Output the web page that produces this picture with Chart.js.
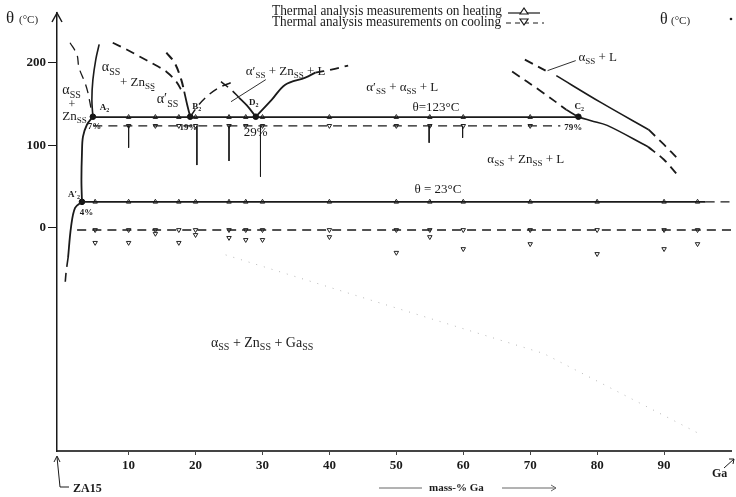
<!DOCTYPE html>
<html>
<head>
<meta charset="utf-8">
<script src="https://cdn.jsdelivr.net/npm/chart.js@4.4.0/dist/chart.umd.min.js"></script>
<style>
  html, body { margin: 0; padding: 0; background: #fff; }
  #wrap { width: 736px; height: 497px; }
</style>
</head>
<body>
<div id="wrap"><canvas id="myChart"></canvas></div>
<script>
// Composiciones medidas (% masa Ga)
var gaUpper = [10, 14, 17.5, 20, 25, 27.5, 30, 40, 50, 55, 60, 70];
var gaLower = [5, 10, 14, 17.5, 20, 25, 27.5, 30, 40, 50, 55, 60, 70, 80, 90, 95];

// Niveles de las lineas horizontales (tal como estan dibujadas)
var tHeatUpper = [134, 134, 134, 134, 134, 134, 134, 134, 134, 134, 134, 134];
var tCoolUpper = [123.5, 123.5, 123.5, 123.5, 123.5, 123.5, 123.5, 123.5, 123.5, 123.5, 123.5, 123.5];
var tHeatLower = [31.5, 31.5, 31.5, 31.5, 31.5, 31.5, 31.5, 31.5, 31.5, 31.5, 31.5, 31.5, 31.5, 31.5, 31.5, 31.5];
var tCoolLower = [-2.5, -2.5, -2.5, -2.5, -2.5, -2.5, -2.5, -2.5, -2.5, -2.5, -2.5, -2.5, -2.5, -2.5, -2.5, -2.5];
var tCoolLowerScatter = [-18, -18, -7, -18, -8.5, -12, -14.5, -14.5, -11, -30, -11, -25.5, -19.5, -31.5, -25.5, -19.5];

// Caidas verticales desde la linea de enfriamiento superior
var dropGa = [10, 20.2, 25, 29.7, 54.9, 59.9];
var dropEnd = [97, 76, 81, 62, 103, 109];

// Extremos de las lineas horizontales
var heatUpperSpan = [4.66, 77.2];
var coolUpperSpan = [4.7, 74.5];
var heatLowerSpan = [3.03, 96.2, 100];
var coolLowerSpan = [2.3, 100];

// Puntos invariantes A2, B2, D2, C2, A'2
var invGa = [4.66, 19.2, 29.0, 77.2, 3.03];
var invT = [134.5, 134.5, 134.5, 134.5, 31.5];

// Curvas de fase [x, y]
var curveA2Top = [[4.66, 134.5], [4.51, 155], [4.66, 179], [5.1, 204], [5.6, 222]];
var curveA2Down = [[4.66, 134.5], [3.77, 124.8], [3.18, 110.3], [3.03, 90.9], [2.95, 58.2], [3.03, 31.5]];
var curveA2LowSolid = [[3.03, 31.5], [2.0, 24.2], [1.4, 1.2], [0.95, -36.4]];
var curveA2LowDash = [[0.95, -36.4], [0.65, -54.5], [0.5, -69]];
var dashLeft1 = [[1.25, 224], [2.28, 209.7], [2.58, 194], [3.47, 175.8], [3.92, 163.6], [4.36, 145.5]];
var dashB2Outer = [[7.63, 224], [9.7, 215.8], [11.63, 207.3], [13.86, 197.6], [15.64, 189], [17.12, 177], [18.0, 164.8]];
var dashB2Inner = [[15.64, 212], [16.85, 200], [17.86, 179.4], [18.31, 164.8]];
var solidB2Inner = [[18.31, 164.8], [18.75, 149], [19.2, 134.5]];
var dashB2Rise = [[19.2, 134.5], [20.5, 149], [22.0, 161.2], [23.5, 169.7], [25.3, 175.8]];
var dashD2Left = [[23.8, 177], [25.3, 167.3], [26.5, 157.6]];
var solidD2Left = [[26.5, 157.6], [27.7, 147.9], [29.0, 134.5]];
var solidD2Rise = [[29.0, 134.5], [31.4, 155.2], [33.4, 173.3], [36.4, 181.8], [37.9, 187.9]];
var dashD2Rise = [[37.9, 187.9], [40.3, 191.5], [42.8, 196.4]];
var dashRightUpperTop = [[69.2, 203.6], [72.3, 190.3]];
var solidRightUpper = [[73.9, 184.2], [80.6, 151.5], [87.7, 118.8]];
var dashRightUpperEnd = [[87.7, 118.8], [90, 100.6], [92.2, 82.4]];
var dashRightLowerTop = [[67.3, 189.1], [71.7, 164.8], [75.4, 143]];
var solidRightLower = [[75.4, 143], [77.2, 134.5], [79.1, 129.7], [81.5, 124], [87.6, 98.2]];
var dashRightLowerEnd = [[87.6, 98.2], [90, 82.4], [92, 64.2]];
var dotGaSolvus = [[24.5, -32.7], [48, -92], [72, -152], [95.4, -249.7]];
var pointerD2 = [[30.5, 179.4], [25.3, 152.7]];
var pointerC2 = [[76.8, 202.4], [72.6, 190.3]];

// Marcas del eje
var xTicks = [10, 20, 30, 40, 50, 60, 70, 80, 90];
var yTicks = [0, 100, 200];

// Etiquetas dentro del grafico [texto, x, y, tamaño]
var plotLabels = [
  ['α_SS', 0.1, 166, 14], ['+', 1.0, 149, 12], ['Zn_SS', 0.1, 134.5, 13],
  ['α_SS', 6.0, 194, 14], ['+ Zn_SS', 8.7, 175.8, 13], ['-', 13.3, 166, 12], ['α′_SS', 14.2, 155, 14],
  ['α′_SS + Zn_SS + L', 27.5, 189, 13], ['α′_SS + α_SS + L', 45.5, 169.7, 13],
  ['θ=123°C', 52.4, 145.5, 13], ['29%', 27.2, 115, 13], ['α_SS + L', 77.2, 206, 13],
  ['α_SS + Zn_SS + L', 63.6, 82.4, 13], ['θ = 23°C', 52.7, 46, 13],
  ['α_SS + Zn_SS + Ga_SS', 22.3, -139.4, 14]
];
var smallLabels = [
  ['A_2', 5.7, 145.5], ['B_2', 19.5, 146.7], ['D_2', 28.0, 151.5], ['C_2', 76.6, 146.7],
  ['A′_2', 0.95, 40], ['7%', 3.9, 122.4], ['19%', 17.6, 121.2], ['79%', 75.1, 121.2], ['4%', 2.7, 18.2]
];

function pts(arr) {
  return arr.map(function (p) { return { x: p[0], y: p[1] }; });
}
function zipPts(xs, ys) {
  return xs.map(function (x, i) { return { x: x, y: ys[i] }; });
}
function lineDs(data, dashed, width) {
  return {
    data: data, showLine: true, pointRadius: 0, borderColor: '#1a1a1a',
    borderWidth: width || 1.8, borderDash: dashed ? [9, 6] : [], fill: false, tension: 0.35
  };
}

var drops = [];
dropGa.forEach(function (g, i) {
  drops.push({ x: g, y: tCoolUpper[0] }, { x: g, y: dropEnd[i] }, { x: g, y: null });
});

var datasets = [
  lineDs(zipPts(heatUpperSpan, [134, 134]), false, 1.8),
  lineDs(zipPts(coolUpperSpan, [123.5, 123.5]), true, 1.2),
  lineDs(zipPts(heatLowerSpan.slice(0, 2), [31.5, 31.5]), false, 1.8),
  lineDs(zipPts(heatLowerSpan.slice(1), [31.5, 31.5]), true, 1.4),
  lineDs(zipPts(coolLowerSpan, [-2.5, -2.5]), true, 1.4),
  Object.assign(lineDs(drops, false, 1), { spanGaps: false, tension: 0 }),
  lineDs(pts(curveA2Top), false, 1.6),
  lineDs(pts(curveA2Down), false, 1.8),
  lineDs(pts(curveA2LowSolid), false, 1.8),
  lineDs(pts(curveA2LowDash), true, 1.6),
  lineDs(pts(dashLeft1), true, 1.3),
  lineDs(pts(dashB2Outer), true, 1.8),
  lineDs(pts(dashB2Inner), true, 2),
  lineDs(pts(solidB2Inner), false, 1.8),
  lineDs(pts(dashB2Rise), true, 1.5),
  lineDs(pts(dashD2Left), true, 1.5),
  lineDs(pts(solidD2Left), false, 1.8),
  lineDs(pts(solidD2Rise), false, 1.8),
  lineDs(pts(dashD2Rise), true, 1.8),
  lineDs(pts(dashRightUpperTop), true, 1.8),
  lineDs(pts(solidRightUpper), false, 1.6),
  lineDs(pts(dashRightUpperEnd), true, 1.8),
  lineDs(pts(dashRightLowerTop), true, 1.8),
  lineDs(pts(solidRightLower), false, 1.6),
  lineDs(pts(dashRightLowerEnd), true, 1.8),
  Object.assign(lineDs(pts(dotGaSolvus), true, 1), { borderColor: '#b5b5b5', borderDash: [1, 7], tension: 0 }),
  Object.assign(lineDs(pts(pointerD2), false, 0.9), { tension: 0 }),
  Object.assign(lineDs(pts(pointerC2), false, 0.9), { tension: 0 }),
  // marcas de calentamiento (triangulo) y enfriamiento (triangulo invertido)
  { data: zipPts(gaUpper, tHeatUpper), showLine: false, pointStyle: 'triangle', pointRadius: 2.6,
    pointBackgroundColor: '#fff', pointBorderColor: '#222', pointBorderWidth: 1 },
  { data: zipPts(gaUpper, tCoolUpper), showLine: false, pointStyle: 'triangle', rotation: 180, pointRadius: 2.6,
    pointBackgroundColor: '#fff', pointBorderColor: '#222', pointBorderWidth: 1 },
  { data: zipPts(gaLower, tHeatLower), showLine: false, pointStyle: 'triangle', pointRadius: 2.6,
    pointBackgroundColor: '#fff', pointBorderColor: '#222', pointBorderWidth: 1 },
  { data: zipPts(gaLower, tCoolLower), showLine: false, pointStyle: 'triangle', rotation: 180, pointRadius: 2.6,
    pointBackgroundColor: '#fff', pointBorderColor: '#222', pointBorderWidth: 1 },
  { data: zipPts(gaLower, tCoolLowerScatter), showLine: false, pointStyle: 'triangle', rotation: 180, pointRadius: 2.6,
    pointBackgroundColor: '#fff', pointBorderColor: '#222', pointBorderWidth: 1 },
  { data: zipPts(invGa, invT), showLine: false, pointStyle: 'circle', pointRadius: 2.8,
    pointBackgroundColor: '#111', pointBorderColor: '#111' }
];

var SERIF = '"Liberation Serif", "DejaVu Serif", serif';

// texto con subindices: "α_SS + L"
function drawRich(ctx, str, x, y, size, bold) {
  var parts = str.split(/(_[^\s]+)/);
  var w = bold ? 'bold ' : '';
  ctx.textBaseline = 'middle';
  ctx.textAlign = 'left';
  parts.forEach(function (p) {
    if (!p) return;
    if (p.charAt(0) === '_') {
      ctx.font = w + Math.round(size * 0.68) + 'px ' + SERIF;
      ctx.fillText(p.slice(1), x, y + size * 0.32);
      x += ctx.measureText(p.slice(1)).width;
    } else {
      ctx.font = w + size + 'px ' + SERIF;
      ctx.fillText(p, x, y);
      x += ctx.measureText(p).width;
    }
  });
  return x;
}

function tri(ctx, x, y, down) {
  ctx.beginPath();
  if (down) { ctx.moveTo(x - 4, y - 3); ctx.lineTo(x + 4, y - 3); ctx.lineTo(x, y + 3); }
  else { ctx.moveTo(x - 4, y + 3); ctx.lineTo(x + 4, y + 3); ctx.lineTo(x, y - 3); }
  ctx.closePath();
  ctx.fillStyle = '#fff';
  ctx.fill();
  ctx.stroke();
}

var decor = {
  id: 'decor',
  afterDraw: function (chart) {
    var ctx = chart.ctx;
    var xs = chart.scales.x, ys = chart.scales.y;
    var a = chart.chartArea;
    ctx.save();
    ctx.fillStyle = '#1a1a1a';
    ctx.strokeStyle = '#1a1a1a';

    plotLabels.forEach(function (l) {
      drawRich(ctx, l[0], xs.getPixelForValue(l[1]), ys.getPixelForValue(l[2]), l[3], false);
    });
    smallLabels.forEach(function (l) {
      drawRich(ctx, l[0], xs.getPixelForValue(l[1]), ys.getPixelForValue(l[2]), 9, true);
    });

    // flecha del eje y
    ctx.lineWidth = 1.5;
    ctx.beginPath();
    ctx.moveTo(a.left - 5, a.top + 9);
    ctx.lineTo(a.left, a.top);
    ctx.lineTo(a.left + 5, a.top + 9);
    ctx.stroke();

    // titulo eje y
    ctx.fillStyle = '#1a1a1a';
    ctx.textBaseline = 'middle';
    ctx.textAlign = 'left';
    ctx.font = '17px ' + SERIF;
    ctx.fillText('θ', 6, 19);
    ctx.font = '11px ' + SERIF;
    ctx.fillText('(°C)', 19, 20);

    // leyenda
    ctx.font = '14px ' + SERIF;
    ctx.fillText('Thermal analysis measurements on heating', 272, 11, 230);
    ctx.fillText('Thermal analysis measurements on cooling', 272, 22, 229);
    ctx.lineWidth = 1.2;
    ctx.beginPath(); ctx.moveTo(508, 13); ctx.lineTo(540, 13); ctx.stroke();
    tri(ctx, 524, 11, false);
    ctx.setLineDash([5, 4]);
    ctx.beginPath(); ctx.moveTo(506, 23); ctx.lineTo(544, 23); ctx.stroke();
    ctx.setLineDash([]);
    tri(ctx, 524, 22, true);
    ctx.fillStyle = '#1a1a1a';
    ctx.font = '16px ' + SERIF;
    ctx.fillText('θ', 660, 20);
    ctx.font = '11px ' + SERIF;
    ctx.fillText('(°C)', 671, 21);
    ctx.beginPath(); ctx.arc(731, 19, 1.3, 0, Math.PI * 2); ctx.fill();

    // ZA15
    ctx.lineWidth = 1;
    ctx.beginPath();
    ctx.moveTo(a.left, a.bottom + 6);
    ctx.lineTo(a.left + 3, a.bottom + 36);
    ctx.lineTo(a.left + 12, a.bottom + 36);
    ctx.moveTo(a.left - 3, a.bottom + 11);
    ctx.lineTo(a.left, a.bottom + 5);
    ctx.lineTo(a.left + 3, a.bottom + 11);
    ctx.stroke();
    ctx.font = 'bold 12px ' + SERIF;
    ctx.fillText('ZA15', 73, 489);

    // mass-% Ga
    ctx.font = 'bold 11px ' + SERIF;
    ctx.fillText('mass-% Ga', 429, 488);
    ctx.strokeStyle = '#666';
    ctx.beginPath();
    ctx.moveTo(379, 488); ctx.lineTo(422, 488);
    ctx.moveTo(502, 488); ctx.lineTo(556, 488);
    ctx.moveTo(551, 485); ctx.lineTo(556, 488); ctx.lineTo(551, 491);
    ctx.stroke();

    // Ga
    ctx.strokeStyle = '#1a1a1a';
    ctx.font = 'bold 12px ' + SERIF;
    ctx.fillText('Ga', 712, 474);
    ctx.beginPath();
    ctx.moveTo(724, 468); ctx.lineTo(734, 459);
    ctx.moveTo(729, 459); ctx.lineTo(734, 459); ctx.lineTo(733, 464);
    ctx.stroke();
    ctx.restore();
  }
};

var ctx = document.getElementById('myChart').getContext('2d');
var myChart = new Chart(ctx, {
  type: 'scatter',
  data: { datasets: datasets },
  options: {
    responsive: true,
    maintainAspectRatio: false,
    animation: false,
    layout: { padding: { top: 13, right: 0, left: 0, bottom: 0 } },
    plugins: { legend: { display: false }, tooltip: { enabled: false } },
    scales: {
      x: {
        type: 'linear', min: -0.7, max: 100,
        afterBuildTicks: function (s) { s.ticks = xTicks.map(function (v) { return { value: v }; }); },
        afterFit: function (s) { s.height = 46; },
        border: { display: true, color: '#444', width: 2 },
        grid: { drawOnChartArea: false, drawTicks: true, tickLength: 4, color: '#444' },
        ticks: { color: '#1a1a1a', padding: 3, font: { family: SERIF, size: 13, weight: 'bold' } }
      },
      y: {
        type: 'linear', min: -270, max: 260,
        afterBuildTicks: function (s) { s.ticks = yTicks.map(function (v) { return { value: v }; }); },
        afterFit: function (s) { s.width = 57; },
        border: { display: true, color: '#1a1a1a', width: 1.5 },
        grid: { drawOnChartArea: false, drawTicks: true, tickLength: 9, color: '#1a1a1a' },
        ticks: { color: '#1a1a1a', padding: 2, font: { family: SERIF, size: 13, weight: 'bold' } }
      }
    }
  },
  plugins: [decor]
});
</script>
</body>
</html>
